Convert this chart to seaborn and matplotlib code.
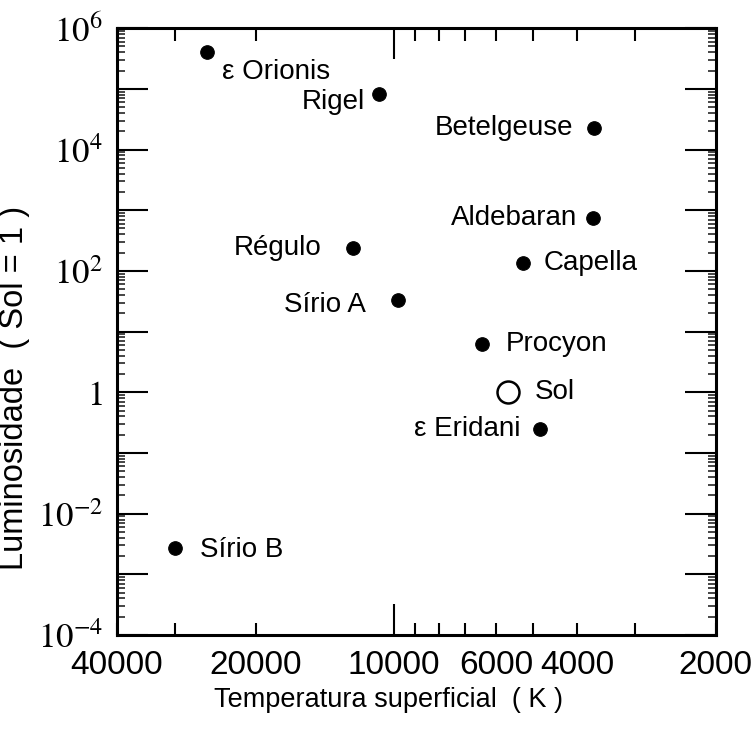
import numpy as np
import pandas as pd
import matplotlib.pyplot as plt
import matplotlib.ticker as mticker
import seaborn as sns

# Stars
estrelas = ["ε Orionis", "Rigel", "Betelgeuse", "Aldebaran", "Capella", "Régulo",
            "Sírio A", "Procyon", "ε Eridani", "Sírio B"]
temperatura = [25500, 10800, 3670, 3690, 5240, 12300, 9800, 6430, 4810, 29900]
luminosidade = [4.0e5, 8.2e4, 2.3e4, 740, 135, 238, 33, 6.2, 0.25, 0.0027]

# Sun
sol_nome = "Sol"
sol_temp = [5650]
sol_lum = [1.0]

# Axis ticks
x_ticks = [40000, 20000, 10000, 6000, 4000, 2000]
x_labels = ["40000", "20000", "10000", "6000", "4000", "2000"]
x_minor = [30000, 9000, 8000, 7000, 5000, 3000]

df = pd.DataFrame({"estrela": estrelas, "T": temperatura, "L": luminosidade})

sns.set_theme(style="ticks")
plt.rcParams["font.family"] = ["Liberation Sans", "DejaVu Sans"]
plt.rcParams["mathtext.fontset"] = "stix"

fig = plt.figure(figsize=(7.55, 7.32), dpi=100)
ax = fig.add_axes([0.155, 0.1325, 0.793, 0.829])

sns.scatterplot(data=df, x="T", y="L", s=95, color="black", edgecolor="black",
                linewidth=0.8, ax=ax, legend=False, zorder=3)
sns.scatterplot(x=sol_temp, y=sol_lum, s=250, facecolor="white", edgecolor="black",
                linewidth=1.8, ax=ax, legend=False, zorder=3)

ax.set_xscale("log")
ax.set_yscale("log")
ax.set_xlim(40000, 2000)
ax.set_ylim(1e-4, 1e6)

# label placement (pixels from the dot)
desloc = {
    "ε Orionis": (15, -20, "left"),
    "Rigel": (-14, -8, "right"),
    "Betelgeuse": (-21, 0, "right"),
    "Aldebaran": (-16, 0, "right"),
    "Capella": (20, 0, "left"),
    "Régulo": (-31, 0, "right"),
    "Sírio A": (-32, -5, "right"),
    "Procyon": (23, 0, "left"),
    "ε Eridani": (-20, 0, "right"),
    "Sírio B": (25, -2, "left"),
}
for nome, t, l in zip(estrelas, temperatura, luminosidade):
    dx, dy, ha = desloc[nome]
    ax.annotate(nome, (t, l), xytext=(dx, dy), textcoords="offset pixels",
                ha=ha, va="center", fontsize=20, color="black")
ax.annotate(sol_nome, (sol_temp[0], sol_lum[0]), xytext=(27, 0), textcoords="offset pixels",
            ha="left", va="center", fontsize=20, color="black")

# x ticks
ax.xaxis.set_major_locator(mticker.FixedLocator(x_ticks))
ax.xaxis.set_major_formatter(mticker.FixedFormatter(x_labels))
ax.xaxis.set_minor_locator(mticker.FixedLocator(x_minor))
ax.xaxis.set_minor_formatter(mticker.NullFormatter())
ax.tick_params(axis="x", which="both", direction="in", top=True, bottom=True,
               length=9, width=1.5, labelsize=24, pad=11, colors="black")
for tk in ax.xaxis.get_major_ticks():
    if tk.get_loc() == 10000:
        tk.tick1line.set_markersize(22)
        tk.tick2line.set_markersize(22)

# y ticks: every decade, label every second one
def fmt_lum(v, pos):
    e = int(round(np.log10(v)))
    if e % 2:
        return ""
    if e == 0:
        return "$1$"
    return r"$10^{%d}$" % e

ax.yaxis.set_major_locator(mticker.LogLocator(base=10, numticks=20))
ax.yaxis.set_major_formatter(mticker.FuncFormatter(fmt_lum))
ax.yaxis.set_minor_locator(mticker.LogLocator(base=10, subs=range(2, 10), numticks=20))
ax.yaxis.set_minor_formatter(mticker.NullFormatter())
ax.tick_params(axis="y", which="major", direction="in", left=True, right=True,
               length=22, width=1.5, labelsize=25, pad=10, colors="black")
ax.tick_params(axis="y", which="minor", direction="in", left=True, right=True,
               length=6, width=1.2)

for sp in ax.spines.values():
    sp.set_visible(True)
    sp.set_linewidth(2.2)
    sp.set_color("black")

ax.set_xlabel("Temperatura superficial  ( K )", fontsize=19.5, color="black")
ax.set_ylabel("Luminosidade  ( Sol = 1 )", fontsize=23.5, color="black")
ax.xaxis.set_label_coords(0.454, -0.086)
ax.yaxis.set_label_coords(-0.145, 0.407)

fig.savefig("out.png", dpi=100)
